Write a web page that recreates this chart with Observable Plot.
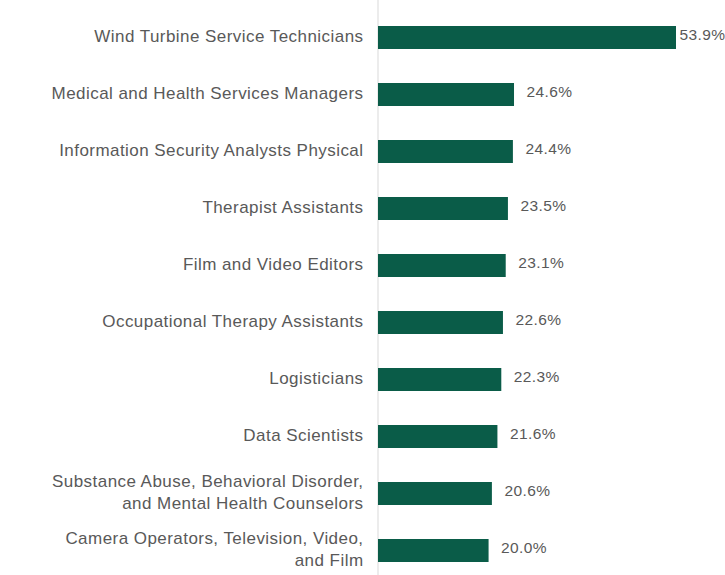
<!DOCTYPE html>
<html>
<head>
<meta charset="utf-8">
<script src="https://cdn.jsdelivr.net/npm/d3@7"></script>
<script src="https://cdn.jsdelivr.net/npm/@observablehq/plot@0.6"></script>
<style>
  html, body { margin: 0; padding: 0; background: #fff; }
  #chart svg { display: block; }
</style>
</head>
<body>
<div id="chart"></div>
<script>
const occupations = [
  "Wind Turbine Service Technicians",
  "Medical and Health Services Managers",
  "Information Security Analysts Physical",
  "Therapist Assistants",
  "Film and Video Editors",
  "Occupational Therapy Assistants",
  "Logisticians",
  "Data Scientists",
  "Substance Abuse, Behavioral Disorder,\nand Mental Health Counselors",
  "Camera Operators, Television, Video,\nand Film"
];
const growth = [53.9, 24.6, 24.4, 23.5, 23.1, 22.6, 22.3, 21.6, 20.6, 20.0];

const data = occupations.map((name, i) => ({name, value: growth[i]}));
const fmt = d => d.value.toFixed(1) + "%";

const chart = Plot.plot({
  width: 725,
  height: 575,
  marginLeft: 378,
  marginRight: 49,
  marginTop: 11,
  marginBottom: -3,
  style: {fontFamily: "'Liberation Sans', Arial, sans-serif", background: "#fff"},
  x: {domain: [0, 53.9], axis: null},
  y: {domain: occupations, axis: null, paddingInner: 0.59, paddingOuter: 0.2},
  marks: [
    Plot.ruleX([0], {stroke: "#d9d9d9", strokeWidth: 1, dx: -0.5, insetTop: -11, insetBottom: 3}),
    Plot.barX(data, {x: "value", y: "name", fill: "#0a5c48"}),
    Plot.text(data, {
      x: 0, y: "name", text: "name", textAnchor: "end", dx: -15, dy: -3.5,
      fontSize: 17, lineHeight: 1.3, fill: "#595959",
      className: "cat-label"
    }),
    Plot.text(data.filter(d => d.value < 50), {
      x: "value", y: "name", text: fmt, textAnchor: "start", dx: 12, dy: -3,
      fontSize: 15.5, fill: "#595959", className: "val-label"
    }),
    Plot.text(data.filter(d => d.value >= 50), {
      x: "value", y: "name", text: fmt, textAnchor: "start", dx: 3, dy: -3,
      fontSize: 15.5, fill: "#595959", className: "val-label"
    })
  ]
});
chart.querySelectorAll(".cat-label text").forEach(t => t.style.letterSpacing = "0.45px");
chart.querySelectorAll(".val-label text").forEach(t => t.style.letterSpacing = "0.4px");
document.getElementById("chart").appendChild(chart);
</script>
</body>
</html>
